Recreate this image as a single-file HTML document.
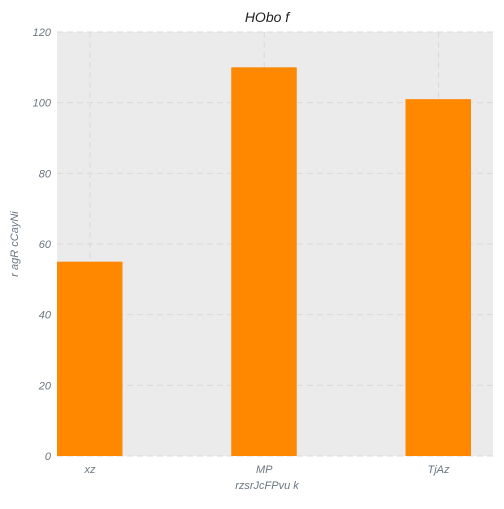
<!DOCTYPE html>
<html><head><meta charset="utf-8"><style>
body{margin:0;background:#fff;}
text{font-family:"Liberation Sans",sans-serif;font-style:italic;}
</style></head><body>
<svg id="chart" width="504" height="504">
<rect x="57" y="32" width="436" height="424" fill="#ebebeb"/>
<g id="grid"></g><g id="bars"></g><g id="ticks"></g>
<text x="267" y="22" font-size="14" fill="#222" text-anchor="middle">HObo f</text>
<text x="267" y="489" font-size="11" fill="#6b7680" text-anchor="middle">rzsrJcFPvu  k</text>
<text x="18" y="244" font-size="11" fill="#6b7680" text-anchor="middle" transform="rotate(-90 18 244)">r agR cCayNi</text>
</svg>
<script>
const categories=["xz","MP","TjAz"];
const values=[55,110,101];
const yTicks=[0,20,40,60,80,100,120];
const NS="http://www.w3.org/2000/svg";
const y=v=>456-v*(424/120);
const x=i=>90+i*174.25;
const grid=document.getElementById('grid'),bars=document.getElementById('bars'),ticks=document.getElementById('ticks');
function mk(tag,attrs,parent){const e=document.createElementNS(NS,tag);for(const k in attrs)e.setAttribute(k,attrs[k]);parent.appendChild(e);return e;}
yTicks.forEach(t=>{
 const l=mk('line',{x1:57,x2:493,y1:y(t),y2:y(t),stroke:'#dadada','stroke-dasharray':'6,4'},grid);
 
 
 const tx=mk('text',{x:51,y:y(t)+4,'font-size':11,fill:'#6b7680','text-anchor':'end'},ticks);
 tx.textContent=t;
 
 
});
categories.forEach((c,i)=>{
 const l=mk('line',{x1:x(i),x2:x(i),y1:32,y2:456,stroke:'#dadada','stroke-dasharray':'6,4'},grid);
 
 
 const r=mk('rect',{x:x(i)-33,y:y(values[i]),width:65.5,height:456-y(values[i]),fill:'#ff8800'},bars);
 
 
 const tx=mk('text',{x:x(i),y:473,'font-size':11,fill:'#6b7680','text-anchor':'middle'},ticks);
 tx.textContent=c;
 
 
});
</script>
</body></html>
